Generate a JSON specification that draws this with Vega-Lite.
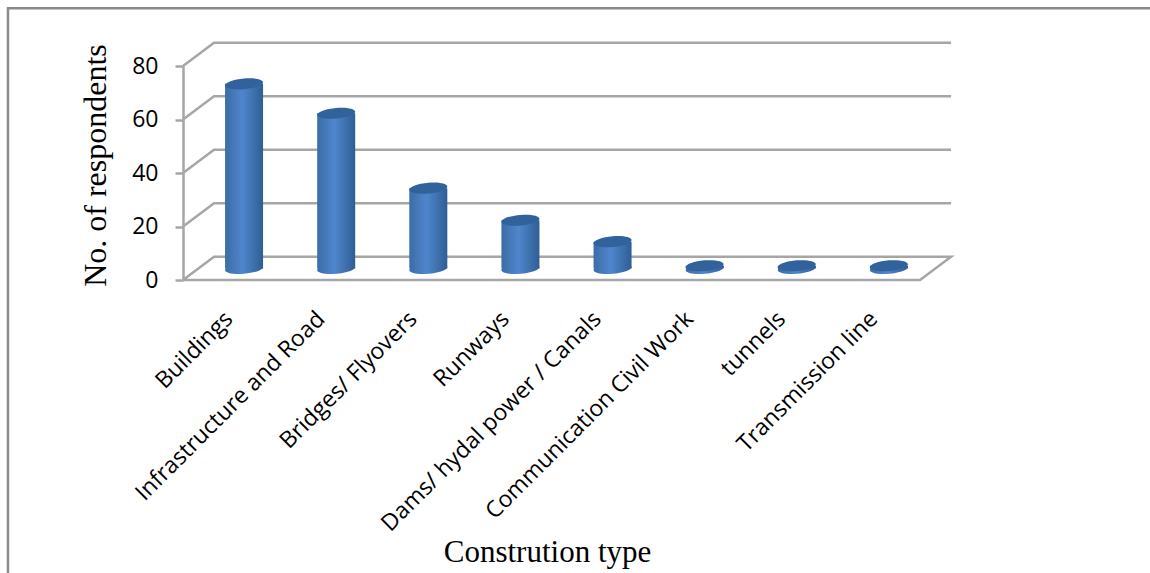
{
  "$schema": "https://vega.github.io/schema/vega-lite/v6.json",
  "width": 737,
  "height": 214,
  "autosize": {"type": "none"},
  "padding": {"left": 183, "top": 66, "right": 230, "bottom": 293},
  "background": "white",
  "config": {"view": {"stroke": null}},
  "datasets": {
    "responses": [
      {"type": "Buildings", "respondents": 69},
      {"type": "Infrastructure and Road", "respondents": 58},
      {"type": "Bridges/ Flyovers", "respondents": 30},
      {"type": "Runways", "respondents": 18},
      {"type": "Dams/ hydal power / Canals", "respondents": 10},
      {"type": "Communication Civil Work", "respondents": 1},
      {"type": "tunnels", "respondents": 1},
      {"type": "Transmission line", "respondents": 1}
    ],
    "walls": [
      {"edge": "g0", "step": 1, "along": 0, "level": 0},
      {"edge": "g0", "step": 2, "along": 0.337, "level": 8.66},
      {"edge": "g0", "step": 3, "along": 8.337, "level": 8.66},
      {"edge": "g0", "step": 4, "along": 8, "level": 0},
      {"edge": "g0", "step": 5, "along": 0, "level": 0},
      {"edge": "g20", "step": 1, "along": 0, "level": 20},
      {"edge": "g20", "step": 2, "along": 0.337, "level": 28.66},
      {"edge": "g20", "step": 3, "along": 8.337, "level": 28.66},
      {"edge": "g40", "step": 1, "along": 0, "level": 40},
      {"edge": "g40", "step": 2, "along": 0.337, "level": 48.66},
      {"edge": "g40", "step": 3, "along": 8.337, "level": 48.66},
      {"edge": "g60", "step": 1, "along": 0, "level": 60},
      {"edge": "g60", "step": 2, "along": 0.337, "level": 68.66},
      {"edge": "g60", "step": 3, "along": 8.337, "level": 68.66},
      {"edge": "g80", "step": 1, "along": 0, "level": 80},
      {"edge": "g80", "step": 2, "along": 0.337, "level": 88.66},
      {"edge": "g80", "step": 3, "along": 8.337, "level": 88.66}
    ],
    "frame": [
      {"step": 1, "along": -1.9, "level": -110},
      {"step": 2, "along": -1.9, "level": 101.6},
      {"step": 3, "along": 10.6, "level": 101.6}
    ]
  },
  "resolve": {"scale": {"x": "independent"}},
  "layer": [
    {
      "data": {"name": "frame"},
      "mark": {"type": "line", "stroke": "#8a8a8a", "strokeWidth": 2.5, "clip": false},
      "encoding": {
        "x": {"field": "along", "type": "quantitative", "scale": {"domain": [0, 8], "nice": false, "zero": false}, "axis": null},
        "y": {"field": "level", "type": "quantitative", "scale": {"domain": [0, 80], "nice": false},
          "axis": {
            "values": [0, 20, 40, 60, 80],
            "grid": false,
            "domainColor": "#a6a6a6",
            "domainWidth": 2.5,
            "tickColor": "#a6a6a6",
            "tickWidth": 2.5,
            "tickSize": 8,
            "labelFont": "Open Sans",
            "labelFontSize": 23,
            "labelColor": "#000000",
            "labelPadding": 17,
            "title": "No. of respondents",
            "titleFont": "Liberation Serif",
            "titleFontSize": 32,
            "titleFontWeight": "normal",
            "titleColor": "#000000",
            "titleAngle": -90,
            "titleAlign": "center",
            "titleBaseline": "middle",
            "titleX": -88,
            "titleY": 99
          }
        },
        "order": {"field": "step"}
      }
    },
    {
      "data": {"name": "walls"},
      "mark": {"type": "line", "stroke": "#a6a6a6", "strokeWidth": 2.5, "strokeJoin": "miter", "clip": false},
      "encoding": {
        "x": {"field": "along", "type": "quantitative", "scale": {"domain": [0, 8], "nice": false, "zero": false}, "axis": null},
        "y": {"field": "level", "type": "quantitative"},
        "detail": {"field": "edge"},
        "order": {"field": "step"}
      }
    },
    {
      "data": {"name": "responses"},
      "layer": [
        {
          "mark": {
            "type": "point", "filled": true, "opacity": 1, "size": 1444, "xOffset": 15, "yOffset": -11.6,
            "shape": "M-1,0.08 A1,0.28,-5,1,0,1,-0.08 A1,0.28,-5,1,0,-1,0.08 Z",
            "fill": {"gradient": "linear", "x1": 0, "x2": 1, "y1": 0, "y2": 0, "stops": [
              {"offset": 0, "color": "#3b6ca6"}, {"offset": 0.45, "color": "#4f86cc"}, {"offset": 1, "color": "#2f5e94"}]}
          },
          "encoding": {
            "x": {"field": "type", "type": "nominal", "sort": null},
            "y": {"datum": 0, "type": "quantitative"}
          }
        },
        {
          "mark": {
            "type": "bar", "width": 38, "xOffset": 15, "yOffset": -11.6, "y2Offset": -11.6,
            "fill": {"gradient": "linear", "x1": 0, "x2": 1, "y1": 0, "y2": 0, "stops": [
              {"offset": 0, "color": "#3b6ca6"}, {"offset": 0.45, "color": "#4f86cc"}, {"offset": 1, "color": "#2f5e94"}]}
          },
          "encoding": {
            "x": {"field": "type", "type": "nominal", "sort": null},
            "y": {"field": "respondents", "type": "quantitative"},
            "y2": {"datum": 0}
          }
        },
        {
          "mark": {
            "type": "point", "filled": true, "opacity": 1, "size": 1444, "xOffset": 15, "yOffset": -11.6,
            "shape": "M-1,0.08 A1,0.28,-5,1,0,1,-0.08 A1,0.28,-5,1,0,-1,0.08 Z",
            "fill": "#31629b"
          },
          "encoding": {
            "x": {
              "field": "type", "type": "nominal", "sort": null,
              "axis": {
                "orient": "bottom",
                "domain": false,
                "ticks": false,
                "labelAngle": -45,
                "labelAlign": "right",
                "labelBaseline": "middle",
                "labelFont": "Open Sans",
                "labelFontSize": 23,
                "labelColor": "#000000",
                "labelPadding": 35,
                "labelLimit": 400,
                "labelOverlap": false,
                "title": "Constrution type",
                "titleFont": "Liberation Serif",
                "titleFontSize": 31,
                "titleFontWeight": "normal",
                "titleColor": "#000000",
                "titleX": 364,
                "titleY": 272,
                "titleBaseline": "middle"
              }
            },
            "y": {"field": "respondents", "type": "quantitative"}
          }
        }
      ]
    }
  ]
}
